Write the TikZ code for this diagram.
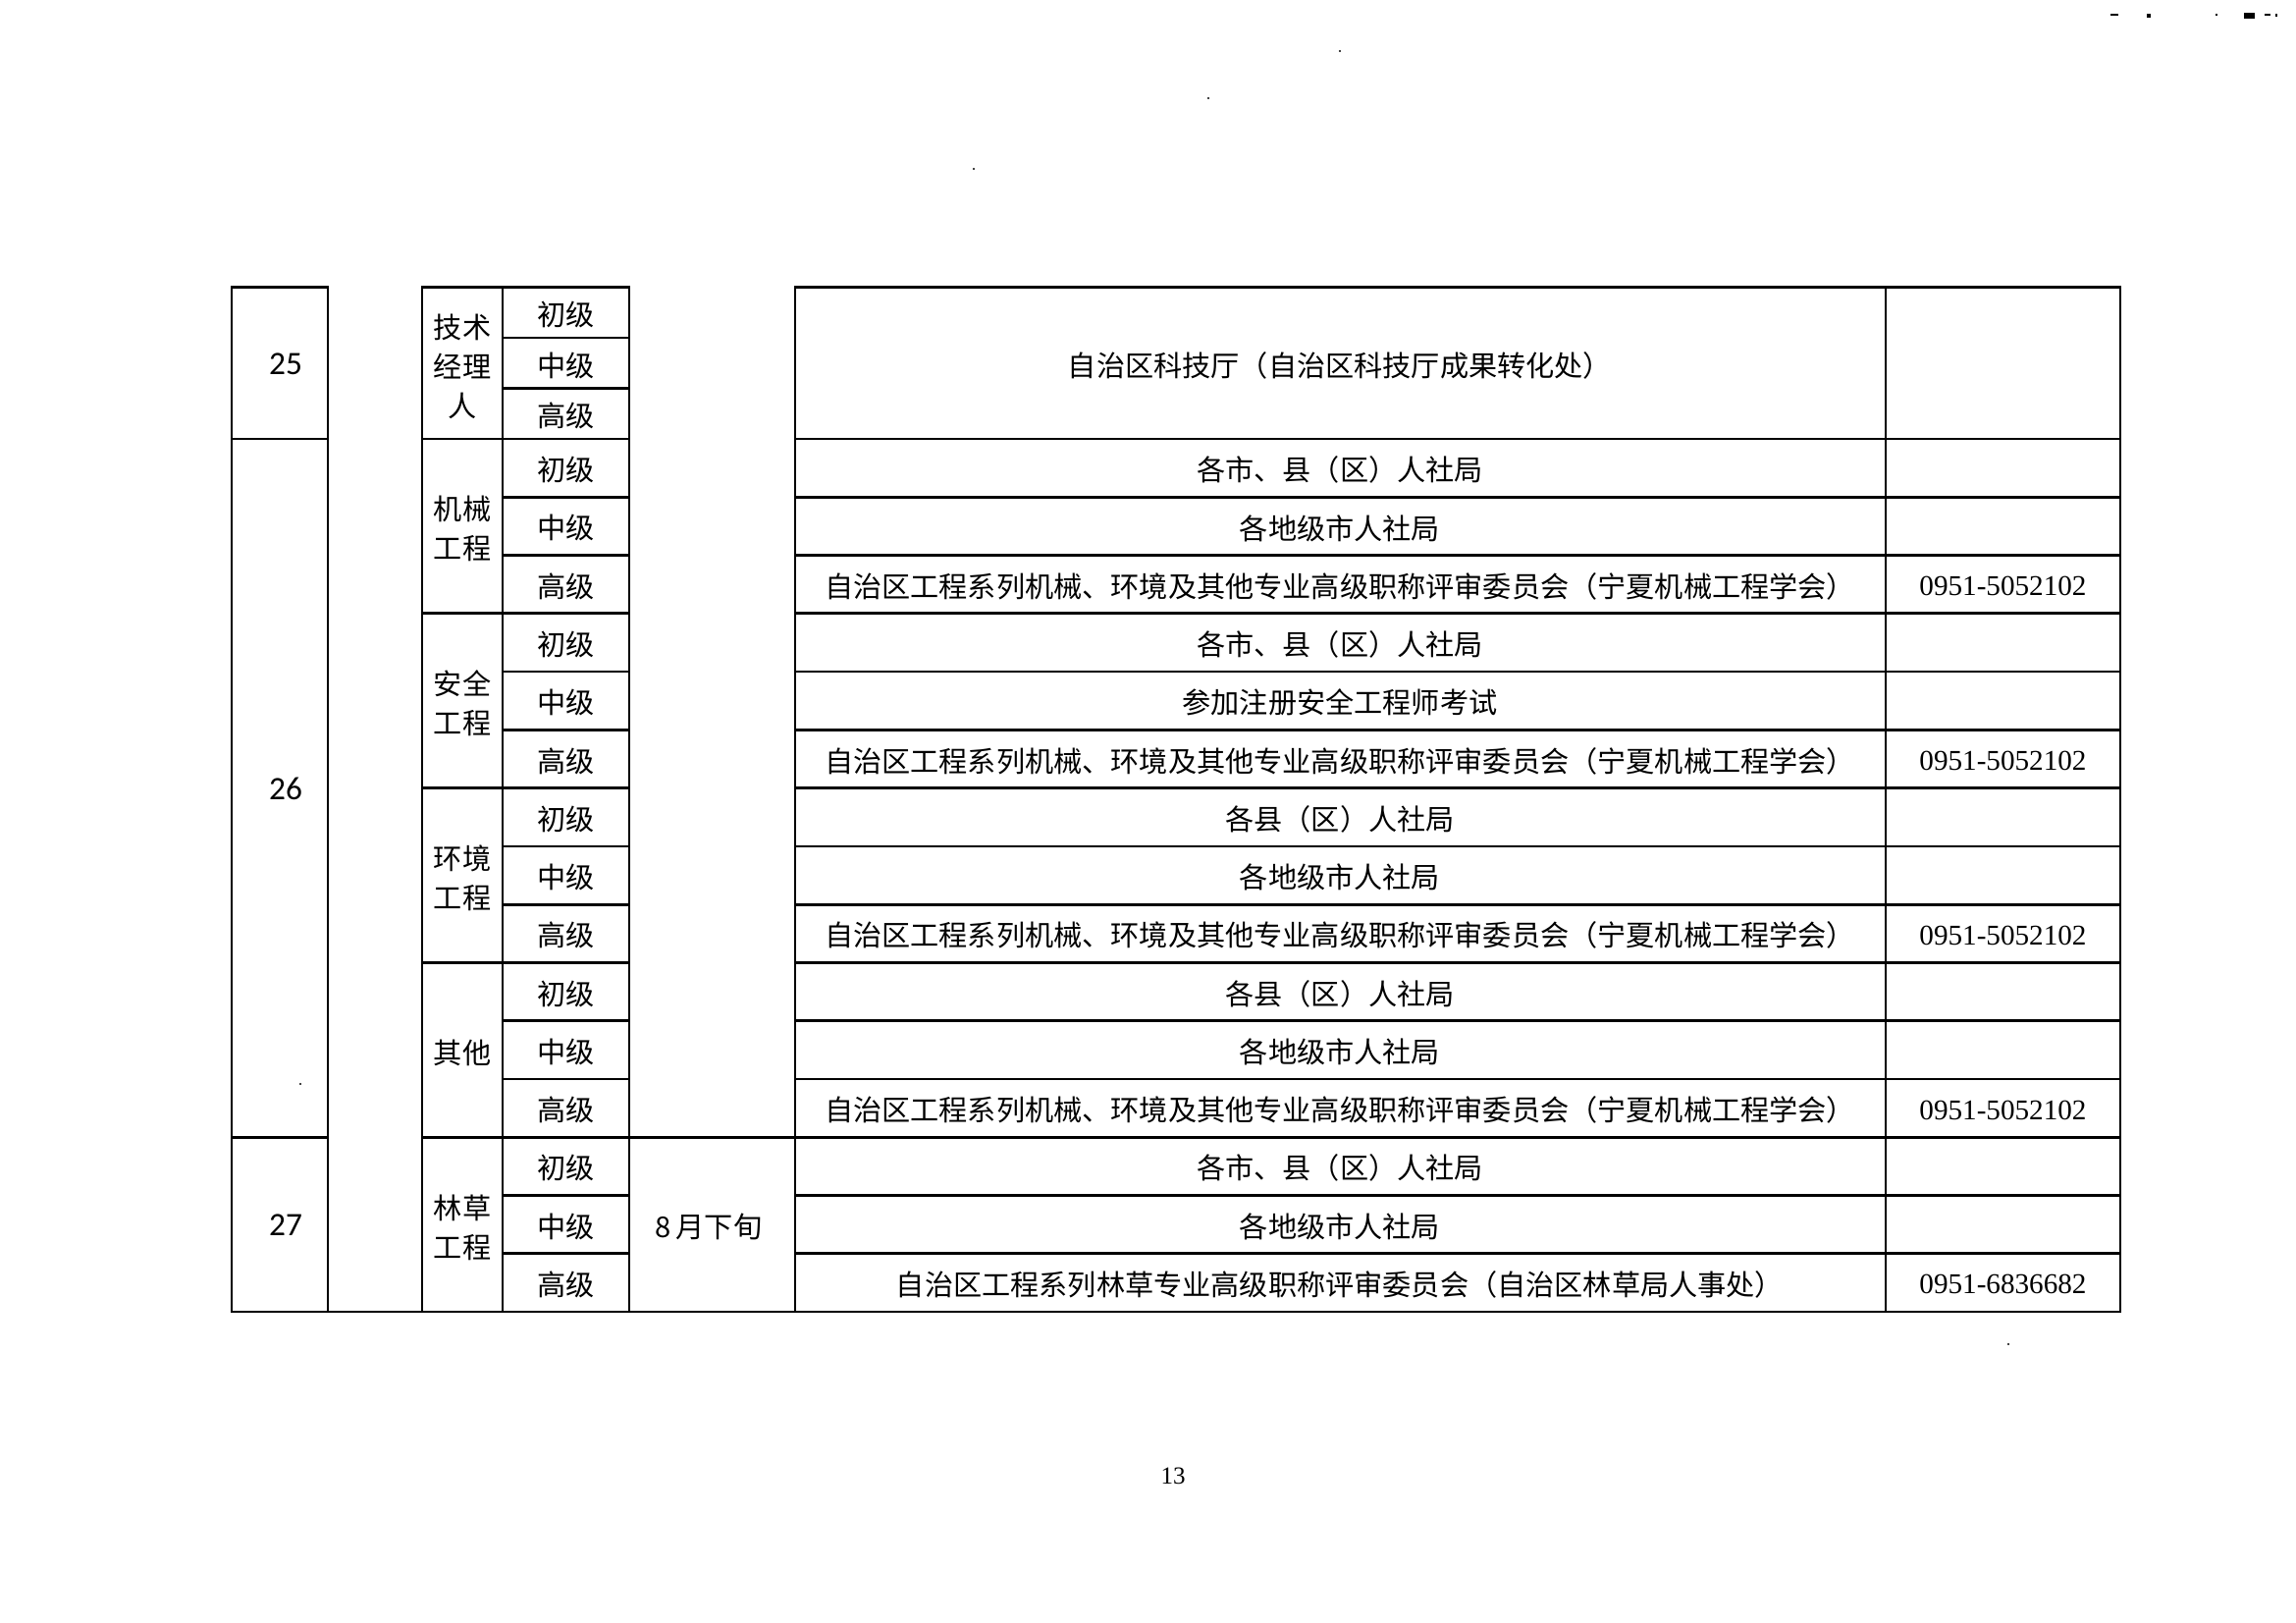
\documentclass[tikz,border=0pt]{standalone}
\usepackage{fontspec}
\setmainfont{Liberation Serif}
\newfontfamily\cjk{Noto Sans CJK SC}
\newfontfamily\numfont{Carlito}
\begin{document}
\begin{tikzpicture}[x=0.36pt,y=-0.36pt,
  rule/.style={line width=1pt, line cap=rect},
  cjktxt/.style={font=\cjk\fontsize{10.5}{14.4}\selectfont, inner sep=0pt, align=center},
  phonetxt/.style={font=\fontsize{10.5}{12}\selectfont, inner sep=0pt},
  idtxt/.style={font=\numfont\fontsize{12}{14}\selectfont, inner sep=0pt},
  pagetxt/.style={font=\fontsize{9}{11}\selectfont, inner sep=0pt},
  speck/.style={fill=black, draw=none}]
\useasboundingbox[fill=white] (0,0) rectangle (2339,1653);

% column x positions
\def\xA{236}\def\xB{334}\def\xC{430}\def\xD{512}\def\xE{641}\def\xF{810}\def\xG{1921}\def\xH{2160}
% row y positions
\def\yT{292.5}\def\yTa{344}\def\yTb{395.5}
\def\yR{59.27}
\pgfmathsetmacro{\yO}{447}

% verticals
\foreach \x in {\xA,\xB,\xC,\xD,\xE,\xF,\xG,\xH}
  \draw[rule] (\x,\yT) -- (\x,1336);

% top border
\draw[rule] (\xA,\yT) -- (\xB,\yT);
\draw[rule] (\xC,\yT) -- (\xE,\yT);
\draw[rule] (\xF,\yT) -- (\xH,\yT);
% row 25 sub-lines (level column only)
\draw[rule] (\xD,\yTa) -- (\xE,\yTa);
\draw[rule] (\xD,\yTb) -- (\xE,\yTb);

% row lines i = 0..15
\foreach \i in {0,...,15}{
  \pgfmathsetmacro{\yy}{447+\i*\yR}
  \ifnum\i=0
    \draw[rule] (\xA,\yy) -- (\xB,\yy);
    \draw[rule] (\xC,\yy) -- (\xE,\yy);
    \draw[rule] (\xF,\yy) -- (\xH,\yy);
  \else\ifnum\i=12
    \draw[rule] (\xA,\yy) -- (\xB,\yy);
    \draw[rule] (\xC,\yy) -- (\xH,\yy);
  \else\ifnum\i=15
    \draw[rule] (\xA,\yy) -- (\xH,\yy);
  \else\ifnum\i=3
    \draw[rule] (\xC,\yy) -- (\xE,\yy);
    \draw[rule] (\xF,\yy) -- (\xH,\yy);
  \else\ifnum\i=6
    \draw[rule] (\xC,\yy) -- (\xE,\yy);
    \draw[rule] (\xF,\yy) -- (\xH,\yy);
  \else\ifnum\i=9
    \draw[rule] (\xC,\yy) -- (\xE,\yy);
    \draw[rule] (\xF,\yy) -- (\xH,\yy);
  \else
    \draw[rule] (\xD,\yy) -- (\xE,\yy);
    \draw[rule] (\xF,\yy) -- (\xH,\yy);
  \fi\fi\fi\fi\fi\fi
}

% serial numbers
\node[idtxt] (n25) at (291,371) {25};
\node[idtxt] (n26) at (291,803) {26};
\node[idtxt] (n27) at (291,1248) {27};

% categories
\node[cjktxt] (c1) at (471,373) {技术\\经理\\人};
\node[cjktxt] (c2) at (471,538) {机械\\工程};
\node[cjktxt] (c3) at (471,716) {安全\\工程};
\node[cjktxt] (c4) at (471,894) {环境\\工程};
\node[cjktxt] (c5) at (471,1072) {其他};
\node[cjktxt] (c6) at (471,1250) {林草\\工程};

% levels, row 25
\node[cjktxt] (l0a) at (576.5,320.5) {初级};
\node[cjktxt] (l0b) at (576.5,372) {中级};
\node[cjktxt] (l0c) at (576.5,423.5) {高级};
% levels, rows 26-27
\foreach \i/\t in {0/初级,1/中级,2/高级,3/初级,4/中级,5/高级,6/初级,7/中级,8/高级,9/初级,10/中级,11/高级,12/初级,13/中级,14/高级}{
  \pgfmathsetmacro{\yy}{447+(\i+0.5)*\yR+2}
  \node[cjktxt] (lv\i) at (576.5,\yy) {\t};
}

% date
\node[cjktxt] (date) at (722,1249) {8\,月下旬};

% offices
\node[cjktxt] (o0) at (1365,372) {自治区科技厅（自治区科技厅成果转化处）};
\def\jx{自治区工程系列机械、环境及其他专业高级职称评审委员会（宁夏机械工程学会）}
\foreach \i/\t in {0/各市、县（区）人社局,1/各地级市人社局,2/\jx,
                   3/各市、县（区）人社局,4/参加注册安全工程师考试,5/\jx,
                   6/各县（区）人社局,7/各地级市人社局,8/\jx,
                   9/各县（区）人社局,10/各地级市人社局,11/\jx,
                   12/各市、县（区）人社局,13/各地级市人社局,
                   14/自治区工程系列林草专业高级职称评审委员会（自治区林草局人事处）}{
  \pgfmathsetmacro{\yy}{447+(\i+0.5)*\yR+2}
  \node[cjktxt] (of\i) at (1365,\yy) {\t};
}

% phones
\foreach \i/\t in {2/0951-5052102,5/0951-5052102,8/0951-5052102,11/0951-5052102,14/0951-6836682}{
  \pgfmathsetmacro{\yy}{447+(\i+0.5)*\yR+2}
  \node[phonetxt] (ph\i) at (2040.5,\yy) {\t};
}

% page number
\node[pagetxt] (page) at (1195,1503) {13};

% scan specks
\fill[speck] (2150,14) rectangle (2158,16);
\fill[speck] (2187,14) rectangle (2191,18);
\fill[speck] (2257,14) rectangle (2259,16);
\fill[speck] (2286,13) rectangle (2297,19);
\fill[speck] (2307,14) rectangle (2313,16);
\fill[speck] (2318,14) rectangle (2320,17);
\fill[speck] (1231,100) circle (1.2);
\fill[speck] (992,172) circle (1.2);
\fill[speck] (1365,52) circle (1.2);
\fill[speck] (2046,1369) circle (1.2);
\fill[speck] (306,1104) circle (1.2);
\end{tikzpicture}
\end{document}
